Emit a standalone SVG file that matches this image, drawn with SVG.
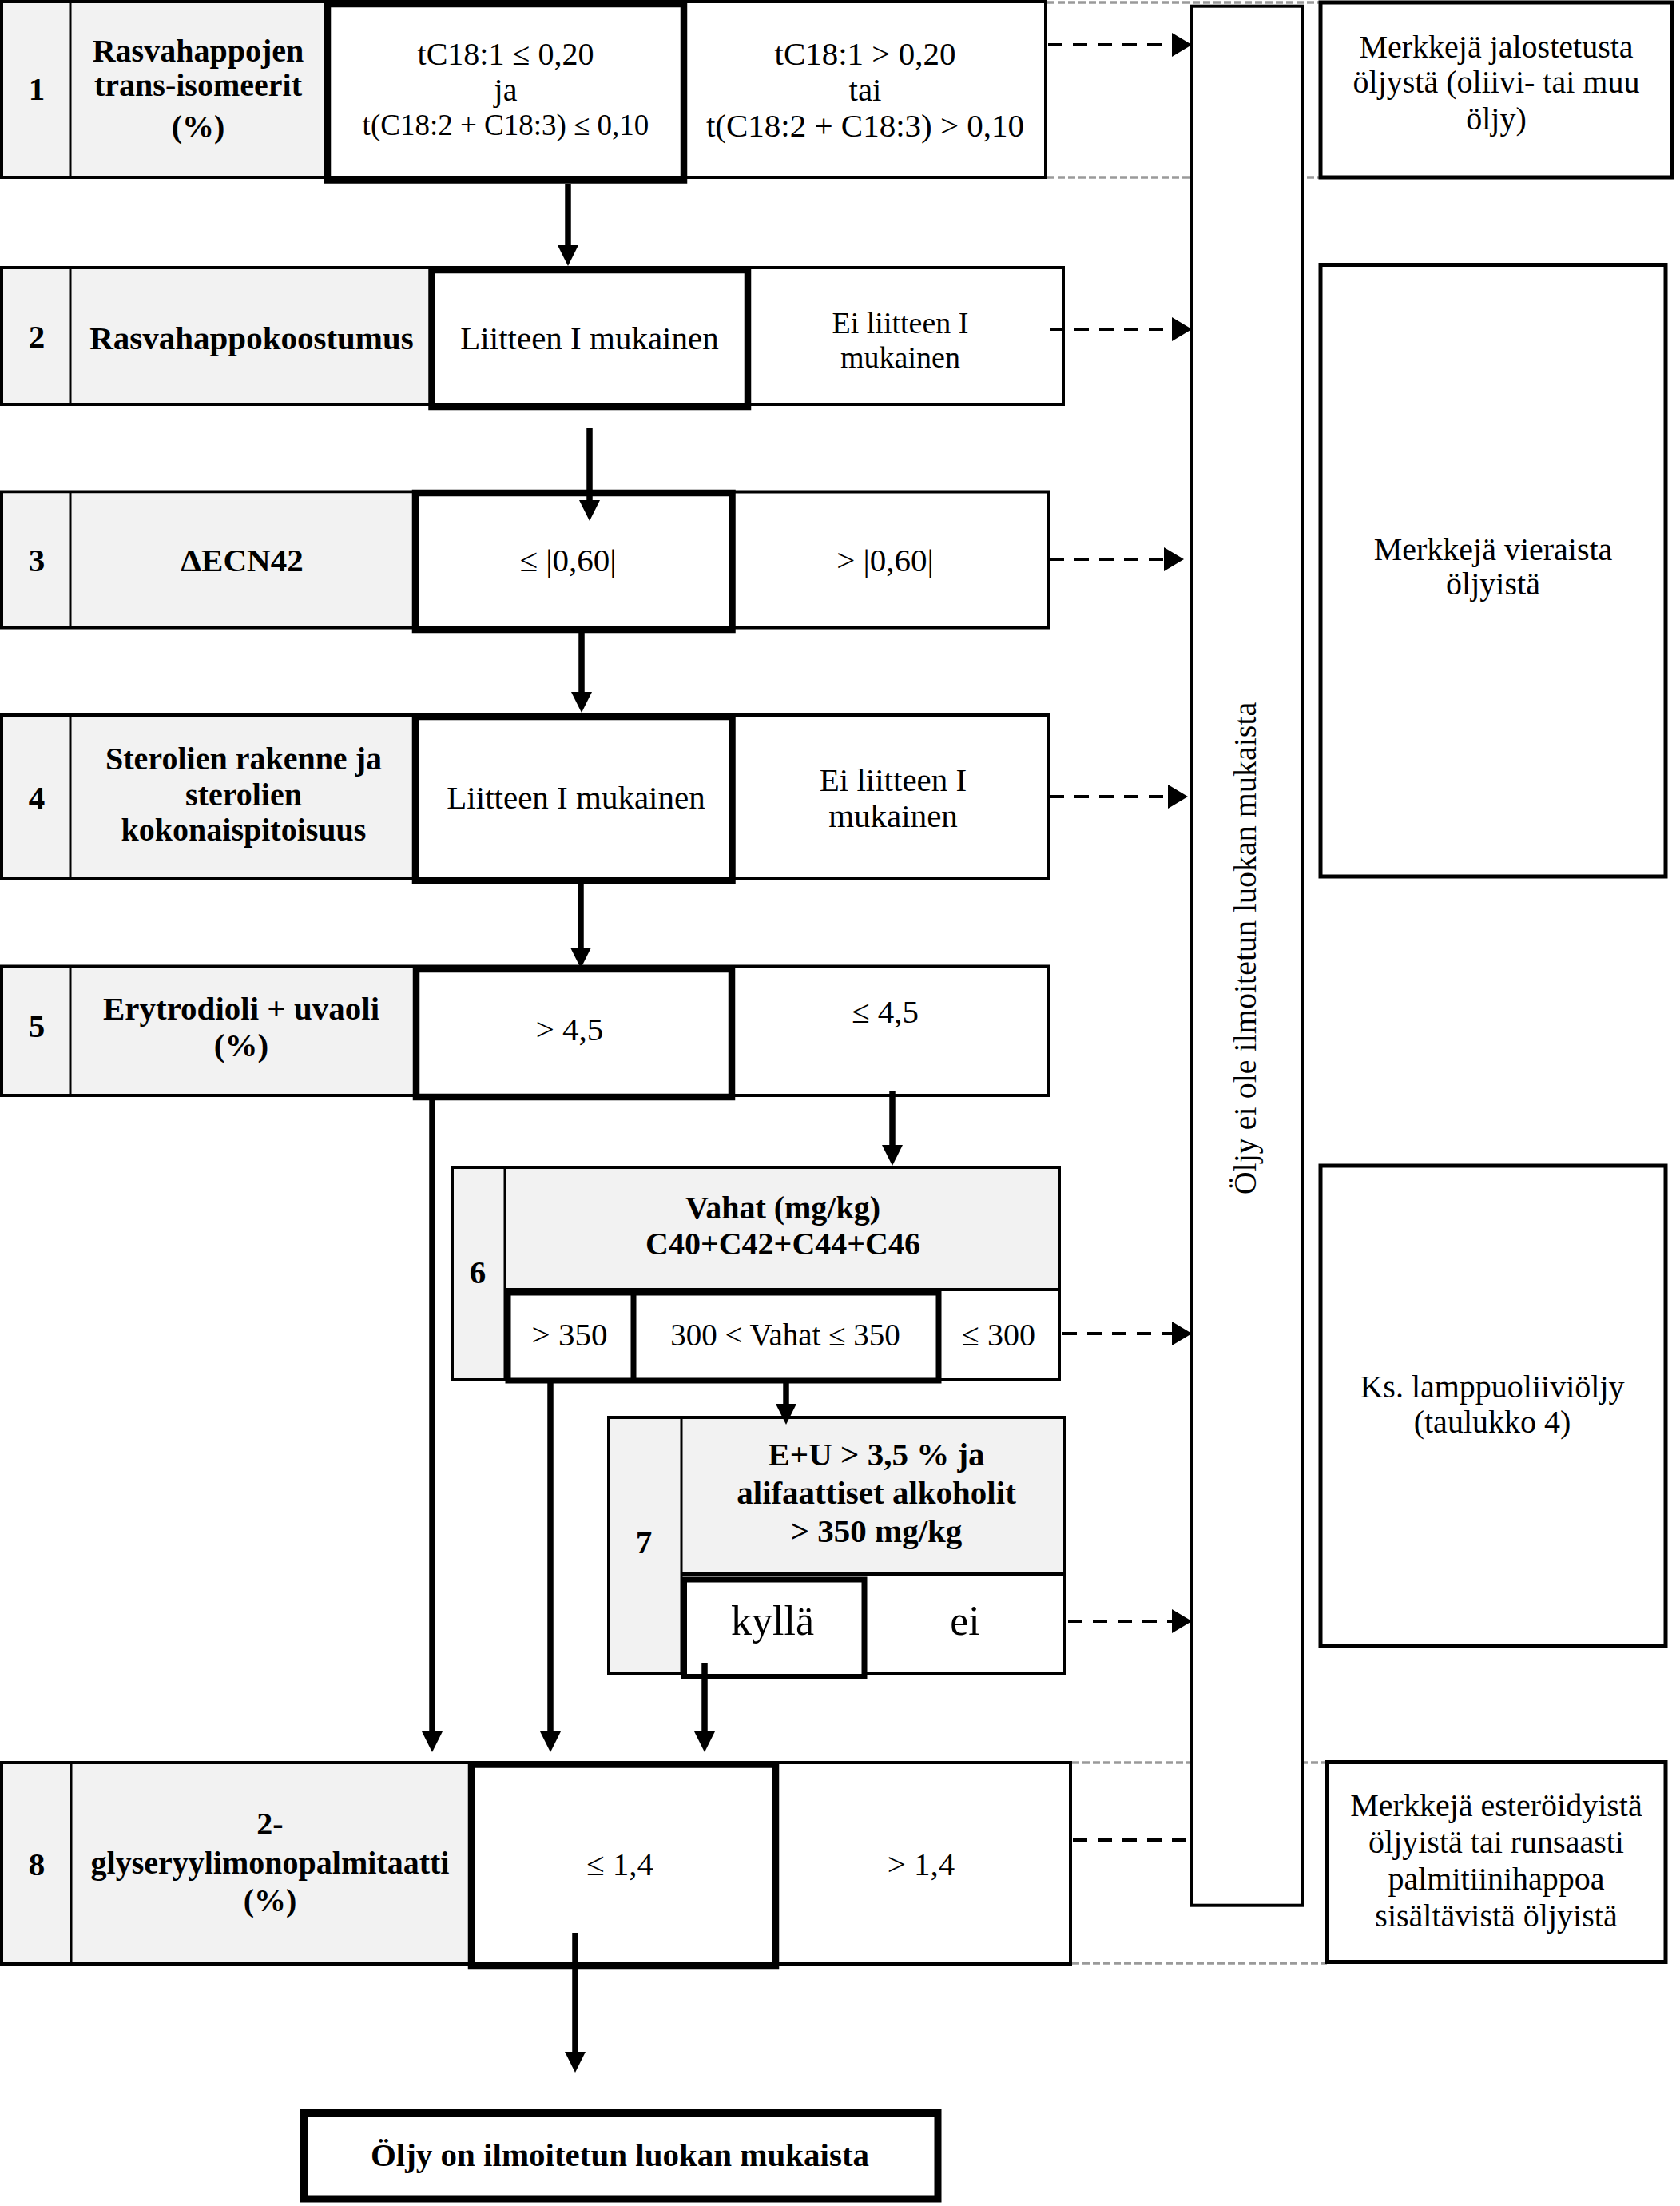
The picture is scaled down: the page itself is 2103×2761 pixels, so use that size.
<svg xmlns="http://www.w3.org/2000/svg" width="2103" height="2761" viewBox="0 0 2103 2761">
<style>
  .wbox { fill:#ffffff; stroke:#000; stroke-width:4; }
  .gfill { fill:#f2f2f2; stroke:none; }
  .thin { stroke:#000; stroke-width:3; }
  .mid { stroke:#000; stroke-width:4; }
  .thick { fill:none; stroke:#000; stroke-width:8.5; }
  .thick7 { fill:none; stroke:#000; stroke-width:7; }
  .side { fill:#ffffff; stroke:#000; stroke-width:5; }
  text { font-family:"Liberation Serif","Times New Roman",serif; font-size:41px; fill:#000; text-anchor:middle; }
  .b { font-weight:bold; }
  .s40 { font-size:40px; }
  .s37 { font-size:37px; }
  .s38 { font-size:38px; }
  .s39 { font-size:39px; }
  .s52 { font-size:52px; }
  .conn { stroke:#000; stroke-width:7.5; fill:none; marker-end:url(#ah); }
  .dash { stroke:#000; stroke-width:4; stroke-dasharray:18 13; fill:none; }
  .darr { marker-end:url(#dh); }
  .gdash { stroke:#9a9a9a; stroke-width:3.5; stroke-dasharray:9 4; fill:none; }
</style>
<defs>
  <marker id="ah" markerUnits="userSpaceOnUse" markerWidth="26" markerHeight="26" viewBox="0 0 26 26" refX="0" refY="13" orient="auto">
    <path d="M0,0 L26,13 L0,26 z" fill="#000"/>
  </marker>
  <marker id="dh" markerUnits="userSpaceOnUse" markerWidth="25" markerHeight="30" viewBox="0 0 25 30" refX="0" refY="15" orient="auto">
    <path d="M0,0 L25,15 L0,30 z" fill="#000"/>
  </marker>
</defs>

<rect x="0" y="0" width="2103" height="2761" fill="#ffffff"/>

<!-- gray dashed guide lines (behind column) -->
<g id="guides">
  <line class="gdash" x1="1311" y1="3" x2="1653" y2="3"/>
  <line class="gdash" x1="1311" y1="222" x2="1653" y2="222"/>
  <line class="gdash" x1="1342" y1="2206" x2="1661" y2="2206"/>
  <line class="gdash" x1="1342" y1="2457" x2="1661" y2="2457"/>
</g>

<g id="row1">
  <rect class="wbox" x="2" y="2" width="1307" height="220"/>
  <rect class="gfill" x="4" y="4" width="406" height="216"/>
  <line class="thin" x1="88" y1="2" x2="88" y2="222"/>
  <rect class="thick" x="410" y="5" width="446" height="220.5"/>
  <text class="b" x="46" y="125">1</text>
  <text class="b s40" x="248" y="77">Rasvahappojen</text>
  <text class="b s40" x="248" y="120">trans-isomeerit</text>
  <text class="b s40" x="248" y="172">(%)</text>
  <text class="s40" x="633" y="81">tC18:1 ≤ 0,20</text>
  <text class="s40" x="633" y="126">ja</text>
  <text class="s37" x="633" y="169">t(C18:2 + C18:3) ≤ 0,10</text>
  <text x="1083" y="81">tC18:1 &gt; 0,20</text>
  <text x="1083" y="126">tai</text>
  <text x="1083" y="171">t(C18:2 + C18:3) &gt; 0,10</text>
</g>

<g id="row2">
  <rect class="wbox" x="2" y="335" width="1329" height="171"/>
  <rect class="gfill" x="4" y="337" width="536" height="167"/>
  <line class="thin" x1="88" y1="335" x2="88" y2="506"/>
  <rect class="thick" x="540.5" y="338" width="395.5" height="171"/>
  <text class="b" x="46" y="435">2</text>
  <text class="b" x="315" y="437">Rasvahappokoostumus</text>
  <text x="738" y="437">Liitteen I mukainen</text>
  <text class="s38" x="1127" y="417">Ei liitteen I</text>
  <text class="s38" x="1127" y="460">mukainen</text>
</g>

<g id="row3">
  <rect class="wbox" x="2" y="615.5" width="1310" height="170"/>
  <rect class="gfill" x="4" y="617.5" width="516" height="166"/>
  <line class="thin" x1="88" y1="615.5" x2="88" y2="785.5"/>
  <rect class="thick" x="520" y="617" width="396.5" height="171"/>
  <text class="b" x="46" y="715">3</text>
  <text class="b" x="303" y="715">ΔECN42</text>
  <text x="711" y="715">≤ |0,60|</text>
  <text x="1108" y="715">&gt; |0,60|</text>
</g>

<g id="row4">
  <rect class="wbox" x="2" y="895" width="1310" height="205"/>
  <rect class="gfill" x="4" y="897" width="516" height="201"/>
  <line class="thin" x1="88" y1="895" x2="88" y2="1100"/>
  <rect class="thick" x="520" y="897" width="396.5" height="205.5"/>
  <text class="b" x="46" y="1012">4</text>
  <text class="b s40" x="305" y="963">Sterolien rakenne ja</text>
  <text class="b s40" x="305" y="1008">sterolien</text>
  <text class="b s40" x="305" y="1052">kokonaispitoisuus</text>
  <text x="721" y="1012">Liitteen I mukainen</text>
  <text x="1118" y="990">Ei liitteen I</text>
  <text x="1118" y="1035">mukainen</text>
</g>

<g id="row5">
  <rect class="wbox" x="2" y="1209.5" width="1310" height="161.5"/>
  <rect class="gfill" x="4" y="1211.5" width="517" height="157.5"/>
  <line class="thin" x1="88" y1="1209.5" x2="88" y2="1371"/>
  <rect class="thick" x="521" y="1213" width="395" height="160"/>
  <text class="b" x="46" y="1298">5</text>
  <text class="b" x="302" y="1276">Erytrodioli + uvaoli</text>
  <text class="b" x="302" y="1322">(%)</text>
  <text x="713" y="1302">&gt; 4,5</text>
  <text x="1108" y="1280">≤ 4,5</text>
</g>

<g id="row6">
  <rect class="wbox" x="566" y="1461" width="760" height="266"/>
  <rect class="gfill" x="568" y="1463" width="756" height="151"/>
  <rect class="gfill" x="568" y="1463" width="64" height="262"/>
  <line class="thin" x1="632" y1="1461" x2="632" y2="1727"/>
  <line class="mid" x1="632" y1="1614" x2="1326" y2="1614"/>
  <rect x="636" y="1618" width="539" height="110" fill="#ffffff" stroke="none"/>
  <rect class="thick7" x="636" y="1618" width="539" height="110"/>
  <line stroke="#000" stroke-width="7" x1="793" y1="1618" x2="793" y2="1728"/>
  <text class="b" x="598" y="1606">6</text>
  <text class="b s40" x="980" y="1525">Vahat (mg/kg)</text>
  <text class="b s40" x="980" y="1570">C40+C42+C44+C46</text>
  <text x="713" y="1684">&gt; 350</text>
  <text class="s39" x="983" y="1684">300 &lt; Vahat ≤ 350</text>
  <text class="s40" x="1250" y="1684">≤ 300</text>
</g>

<g id="row7">
  <rect class="wbox" x="762" y="1774" width="571" height="321"/>
  <rect class="gfill" x="764" y="1776" width="567" height="194"/>
  <rect class="gfill" x="764" y="1776" width="89" height="317"/>
  <line class="thin" x1="853" y1="1774" x2="853" y2="2095"/>
  <line class="mid" x1="853" y1="1970" x2="1333" y2="1970"/>
  <rect x="856.5" y="1977" width="225.5" height="121.5" fill="#ffffff" stroke="none"/>
  <rect class="thick7" x="856.5" y="1977" width="225.5" height="121.5"/>
  <text class="b" x="806" y="1944">7</text>
  <text class="b" x="1097" y="1834">E+U &gt; 3,5 % ja</text>
  <text class="b" x="1097" y="1882">alifaattiset alkoholit</text>
  <text class="b" x="1097" y="1930">&gt; 350 mg/kg</text>
  <text class="s52" x="967" y="2046">kyllä</text>
  <text class="s52" x="1208" y="2046">ei</text>
</g>

<g id="row8">
  <rect class="wbox" x="2" y="2206" width="1338" height="252"/>
  <rect class="gfill" x="4" y="2208" width="586" height="248"/>
  <line class="thin" x1="89" y1="2206" x2="89" y2="2458"/>
  <rect class="thick" x="590" y="2208.5" width="381" height="251.5"/>
  <text class="b" x="46" y="2347">8</text>
  <text class="b s40" x="338" y="2296">2-</text>
  <text class="b s40" x="338" y="2345">glyseryylimonopalmitaatti</text>
  <text class="b s40" x="338" y="2392">(%)</text>
  <text x="776" y="2347">≤ 1,4</text>
  <text x="1153" y="2347">&gt; 1,4</text>
</g>

<g id="final">
  <rect x="380.5" y="2644.5" width="793.5" height="107.5" fill="#ffffff" stroke="#000" stroke-width="9"/>
  <text class="b" x="776" y="2711">Öljy on ilmoitetun luokan mukaista</text>
</g>

<g id="column">
  <rect x="1492" y="7.7" width="138" height="2377" fill="#ffffff" stroke="#000" stroke-width="4"/>
  <text class="s40" transform="translate(1572,1187) rotate(-90)" x="0" y="0">Öljy ei ole ilmoitetun luokan mukaista</text>
</g>

<g id="boxA">
  <rect class="side" x="1653" y="3" width="440" height="219"/>
  <text class="s40" x="1873" y="72">Merkkejä jalostetusta</text>
  <text class="s40" x="1873" y="116">öljystä (oliivi- tai muu</text>
  <text class="s40" x="1873" y="162">öljy)</text>
</g>
<g id="boxB">
  <rect class="side" x="1653" y="331.5" width="432" height="765.5"/>
  <text class="s40" x="1869" y="701">Merkkejä vieraista</text>
  <text class="s40" x="1869" y="744">öljyistä</text>
</g>
<g id="boxC">
  <rect class="side" x="1653" y="1459" width="432" height="600.5"/>
  <text class="s40" x="1868" y="1749">Ks. lamppuoliiviöljy</text>
  <text class="s40" x="1868" y="1793">(taulukko 4)</text>
</g>
<g id="boxD">
  <rect class="side" x="1661.5" y="2205.5" width="423.5" height="250"/>
  <text class="s40" x="1873" y="2273">Merkkejä esteröidyistä</text>
  <text class="s40" x="1873" y="2319">öljyistä tai runsaasti</text>
  <text class="s40" x="1873" y="2365">palmitiinihappoa</text>
  <text class="s40" x="1873" y="2411">sisältävistä öljyistä</text>
</g>

<g id="connectors">
  <line class="conn" x1="711" y1="230" x2="711" y2="307"/>
  <line class="conn" x1="738" y1="536" x2="738" y2="626"/>
  <line class="conn" x1="728" y1="792" x2="728" y2="866"/>
  <line class="conn" x1="727" y1="1107" x2="727" y2="1186"/>
  <line class="conn" x1="1117" y1="1365" x2="1117" y2="1433"/>
  <line class="conn" x1="541" y1="1377" x2="541" y2="2167"/>
  <line class="conn" x1="689" y1="1731" x2="689" y2="2167"/>
  <line class="conn" x1="984" y1="1731" x2="984" y2="1757"/>
  <line class="conn" x1="882" y1="2081" x2="882" y2="2167"/>
  <line class="conn" x1="720" y1="2419" x2="720" y2="2568"/>
  <line class="dash darr" x1="1312" y1="56" x2="1467" y2="56"/>
  <line class="dash darr" x1="1314" y1="412" x2="1467" y2="412"/>
  <line class="dash darr" x1="1314" y1="700" x2="1457" y2="700"/>
  <line class="dash darr" x1="1314" y1="997" x2="1462" y2="997"/>
  <line class="dash darr" x1="1330" y1="1669" x2="1467" y2="1669"/>
  <line class="dash darr" x1="1337" y1="2029" x2="1467" y2="2029"/>
  <line class="dash" x1="1343" y1="2303" x2="1492" y2="2303"/>
</g>
</svg>
